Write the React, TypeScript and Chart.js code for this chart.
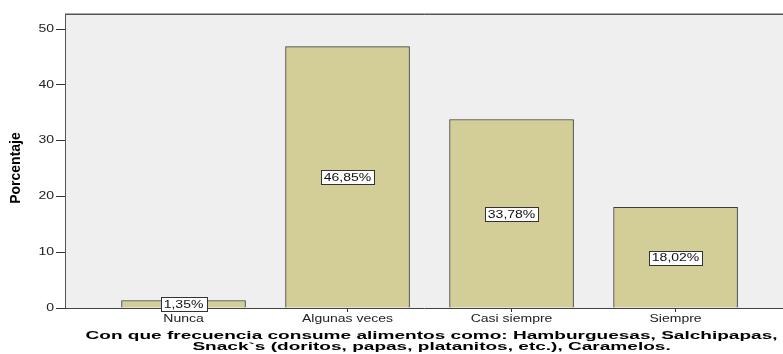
import React, { useEffect, useRef } from "react";
import { Chart, registerables } from "chart.js";

Chart.register(...registerables);

const categories = ["Nunca", "Algunas veces", "Casi siempre", "Siempre"];
const percentages = [1.35, 46.85, 33.78, 18.02];
const valueLabels = ["1,35%", "46,85%", "33,78%", "18,02%"];
const yTicks = [0, 10, 20, 30, 40, 50];
const yTitle = "Porcentaje";
const xTitleLines = [
  "Con que frecuencia consume alimentos como: Hamburguesas, Salchipapas,",
  "Snack`s (doritos, papas, platanitos, etc.), Caramelos.",
];

const STRETCH = 1.4;
const FONT = "'Liberation Sans', Arial, sans-serif";

function drawStretched(ctx: any, text: string, x: number, y: number, sx: number, align: string) {
  ctx.save();
  ctx.translate(x, y);
  ctx.scale(sx, 1);
  ctx.textAlign = align;
  ctx.fillText(text, 0, 0);
  ctx.restore();
}

const plotBgPlugin = {
  id: "plotBg",
  beforeDraw(chart: any) {
    const { ctx, chartArea } = chart;
    ctx.save();
    ctx.fillStyle = "#efefef";
    ctx.fillRect(chartArea.left, chartArea.top, chartArea.right - chartArea.left, chartArea.bottom - chartArea.top);
    ctx.restore();
  },
  afterDraw(chart: any) {
    const { ctx, chartArea, scales } = chart;
    ctx.save();
    // frame
    ctx.strokeStyle = "#555555";
    ctx.lineWidth = 1;
    ctx.beginPath();
    ctx.moveTo(chartArea.left + 0.5, chartArea.bottom);
    ctx.lineTo(chartArea.left + 0.5, chartArea.top + 0.5);
    ctx.lineTo(chartArea.right, chartArea.top + 0.5);
    ctx.stroke();
    ctx.strokeStyle = "#aaaaaa";
    ctx.beginPath();
    ctx.moveTo(chartArea.left, chartArea.top - 0.5);
    ctx.lineTo(chartArea.right, chartArea.top - 0.5);
    ctx.stroke();

    // x tick labels
    ctx.fillStyle = "#222222";
    ctx.font = `10px ${FONT}`;
    ctx.textBaseline = "alphabetic";
    categories.forEach((c, i) => {
      drawStretched(ctx, c, scales.x.getPixelForValue(i), 322, STRETCH, "center");
    });
    // y tick labels
    ctx.textBaseline = "middle";
    yTicks.forEach((v) => {
      drawStretched(ctx, String(v), 54, scales.y.getPixelForValue(v), STRETCH, "right");
    });

    // value labels
    const meta = chart.getDatasetMeta(0);
    ctx.font = `10px ${FONT}`;
    ctx.textBaseline = "middle";
    meta.data.forEach((bar: any, i: number) => {
      const x = bar.x;
      const y = scales.y.getPixelForValue(percentages[i] / 2);
      const text = valueLabels[i];
      const w = Math.round(ctx.measureText(text).width * STRETCH + 6);
      const h = 14;
      const bx = Math.round(x - w / 2) + 0.5;
      const by = Math.round(y - h / 2) + 0.5;
      ctx.fillStyle = "#ffffff";
      ctx.fillRect(bx, by, w, h);
      ctx.strokeStyle = "#333333";
      ctx.strokeRect(bx, by, w, h);
      ctx.fillStyle = "#111111";
      drawStretched(ctx, text, x, y + 1, STRETCH, "center");
    });

    // y title
    ctx.save();
    ctx.translate(16, 168);
    ctx.rotate(-Math.PI / 2);
    ctx.font = `bold 14px ${FONT}`;
    ctx.fillStyle = "#000000";
    ctx.textAlign = "center";
    ctx.textBaseline = "middle";
    ctx.fillText(yTitle, 0, 0);
    ctx.restore();

    // x title (horizontally stretched, as in the reference)
    const cx = scales.x.getPixelForValue((categories.length - 1) / 2) + 2;
    ctx.font = `bold 11.5px ${FONT}`;
    const sx = 692 / ctx.measureText(xTitleLines[0]).width;
    ctx.fillStyle = "#000000";
    ctx.textBaseline = "alphabetic";
    drawStretched(ctx, xTitleLines[0], cx, 339, sx, "center");
    drawStretched(ctx, xTitleLines[1], cx, 350, sx, "center");
    ctx.restore();
  },
};

export default function App() {
  const canvasRef = useRef<HTMLCanvasElement | null>(null);

  useEffect(() => {
    const canvas = canvasRef.current;
    if (!canvas) return;
    const chart = new Chart(canvas, {
      type: "bar",
      data: {
        datasets: [
          {
            data: percentages.map((v, i) => ({ x: i, y: v })),
            backgroundColor: "#d3ce97",
            borderColor: "#3c3c3c",
            borderWidth: 1,
            barThickness: 124,
          },
        ],
      },
      plugins: [plotBgPlugin],
      options: {
        animation: false,
        responsive: false,
        maintainAspectRatio: false,
        layout: { padding: { top: 14, right: 0, left: 0, bottom: 0 } },
        plugins: { legend: { display: false }, tooltip: { enabled: false } },
        scales: {
          x: {
            type: "linear",
            offset: false,
            min: -0.7226,
            max: 3.655,
            afterBuildTicks: (axis: any) => {
              axis.ticks = categories.map((_, i) => ({ value: i }));
            },
            afterFit: (axis: any) => {
              axis.height = 46;
            },
            ticks: {
              display: false,
            },
            grid: {
              offset: false,
              drawOnChartArea: false,
              drawTicks: true,
              tickLength: 4,
              color: "#333333",
            },
            border: { display: true, color: "#444444", width: 1 },
          },
          y: {
            min: 0,
            max: 52.69,
            afterBuildTicks: (axis: any) => {
              axis.ticks = yTicks.map((v) => ({ value: v }));
            },
            afterFit: (axis: any) => {
              axis.width = 65;
            },
            ticks: {
              display: false,
            },
            grid: {
              drawOnChartArea: false,
              drawTicks: true,
              tickLength: 9,
              color: "#333333",
            },
            border: { display: true, color: "#444444", width: 1 },
          },
        },
      },
    });
    return () => chart.destroy();
  }, []);

  return (
    <div style={{ position: "absolute", left: 0, top: 0, width: 783, height: 354, overflow: "hidden", background: "#ffffff" }}>
      <canvas ref={canvasRef} width={783} height={354} style={{ display: "block" }} />
    </div>
  );
}
